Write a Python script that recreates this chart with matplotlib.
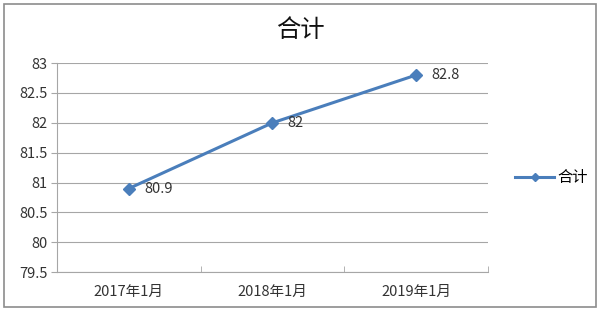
import matplotlib.pyplot as plt
from matplotlib.patches import Rectangle

plt.rcParams['font.family'] = ['Noto Sans CJK SC', 'DejaVu Sans']

categories = ["2017年1月", "2018年1月", "2019年1月"]
values = [80.9, 82.0, 82.8]
value_labels = ["80.9", "82", "82.8"]
series_name = "合计"
y_ticks = [79.5, 80, 80.5, 81, 81.5, 82, 82.5, 83]
y_tick_labels = ["79.5", "80", "80.5", "81", "81.5", "82", "82.5", "83"]

line_color = "#4a7ebb"
grid_color = "#a6a6a6"

fig = plt.figure(figsize=(6, 3.11), dpi=100)
ax = fig.add_axes([0.095, 0.125, 0.718, 0.672])

xs = list(range(len(categories)))
ax.plot(xs, values, color=line_color, lw=2.2, marker="D", ms=6.5,
        label=series_name)
for x, v, lab in zip(xs, values, value_labels):
    ax.annotate(lab, (x, v), xytext=(11, 0), textcoords="offset points",
                va="center", ha="left", fontsize=10.5, color="#333333")

ax.set_xlim(-0.5, len(categories) - 0.5)
ax.set_ylim(79.5, 83)
ax.set_yticks(y_ticks)
ax.set_yticklabels(y_tick_labels, fontsize=10.5, color="#333333")
ax.set_xticks(xs)
ax.set_xticklabels(categories, fontsize=10.5, color="#333333")
ax.tick_params(axis="x", length=0, pad=9)
ax.tick_params(axis="y", length=4, color=grid_color, pad=3)
# category boundary ticks
ax.set_xticks([i - 0.5 for i in range(len(categories) + 1)], minor=True)
ax.tick_params(axis="x", which="minor", length=4, color=grid_color,
               direction="in")

ax.grid(axis="y", color=grid_color, lw=0.8)
ax.set_axisbelow(True)
for s in ["top", "right"]:
    ax.spines[s].set_visible(False)
for s in ["left", "bottom"]:
    ax.spines[s].set_color(grid_color)
    ax.spines[s].set_linewidth(0.8)

fig.text(0.5, 0.905, series_name, ha="center", va="center", fontsize=17.5,
         color="#111111")

fig.legend(loc="center left", bbox_to_anchor=(0.835, 0.428), frameon=False,
           fontsize=11, handlelength=2.6, handletextpad=0.2, markerscale=0.7)

fig.patches.append(Rectangle((0.006, 0.013), 0.988, 0.975, fill=False,
                             edgecolor="#8c8c8c", lw=1.2,
                             transform=fig.transFigure))

fig.savefig("out.png", dpi=100)
